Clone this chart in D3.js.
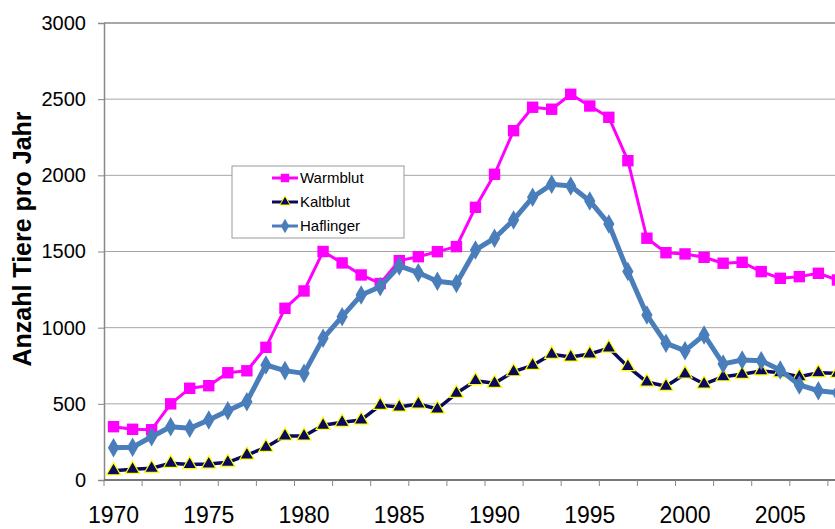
<!DOCTYPE html>
<html>
<head>
<meta charset="utf-8">
<script src="https://cdn.jsdelivr.net/npm/d3@7"></script>
<style>
  body { margin: 0; background: #fff; }
  svg { display: block; font-family: Arial, "Liberation Sans", sans-serif; }
</style>
</head>
<body>
<svg width="835" height="529"></svg>
<script>
const years = d3.range(1970, 2009);
const warmblut = [350, 333, 330, 500, 602, 619, 704, 717, 871, 1127, 1241, 1500, 1425, 1346, 1290,
    1440, 1466, 1499, 1532, 1790, 2007, 2293, 2447, 2434, 2532, 2455, 2381, 2096, 1587, 1492,
    1484, 1462, 1423, 1429, 1368, 1324, 1335, 1357, 1313];
const kaltblut = [61, 70, 77, 110, 101, 105, 116, 164, 215, 289, 289, 359, 379, 394, 490,
    479, 499, 466, 569, 652, 635, 711, 753, 825, 807, 827, 866, 744, 643, 615,
    696, 630, 678, 694, 716, 704, 678, 704, 700];
const haflinger = [212, 215, 284, 350, 339, 394, 455, 514, 755, 718, 700, 930, 1072, 1214, 1269,
    1405, 1361, 1305, 1290, 1510, 1587, 1707, 1856, 1941, 1930, 1832, 1681, 1368, 1083, 897,
    849, 952, 762, 788, 783, 722, 624, 586, 573];
const yTicks = [0, 500, 1000, 1500, 2000, 2500, 3000];
const xLabels = [1970, 1975, 1980, 1985, 1990, 1995, 2000, 2005];

const svg = d3.select('svg');
const plotLeft = 104, plotTop = 23, plotBottom = 480;
const catW = 19.05;

const x = d3.scaleBand().domain(years).range([plotLeft, plotLeft + years.length * catW]);
const y = d3.scaleLinear().domain([0, 3000]).range([plotBottom, plotTop]);

// gridlines
svg.append('g').selectAll('line').data(yTicks.filter(d => d > 0)).join('line')
    .attr('x1', plotLeft).attr('x2', 835)
    .attr('y1', d => y(d)).attr('y2', d => y(d))
    .attr('stroke', d => d === 3000 ? '#8a8a8a' : '#a6a6a6')
    .attr('stroke-width', d => d === 3000 ? 1.5 : 1);

// y axis
const yAxis = svg.append('g')
    .attr('transform', `translate(${plotLeft},0)`)
    .call(d3.axisLeft(y).tickValues(yTicks).tickFormat(d3.format('d')).tickSize(6).tickPadding(12));
yAxis.select('.domain').attr('stroke', '#888').attr('stroke-width', 1.5);
yAxis.selectAll('.tick line').attr('stroke', '#888');
yAxis.selectAll('.tick text').attr('font-size', 20).attr('fill', '#000')
    .attr('font-family', 'Arial, "Liberation Sans", sans-serif');

// x axis: tick marks every 2 categories, labels every 5 years
const xAxisG = svg.append('g');
xAxisG.append('line')
    .attr('x1', plotLeft).attr('x2', 835)
    .attr('y1', plotBottom).attr('y2', plotBottom)
    .attr('stroke', '#777').attr('stroke-width', 2);
xAxisG.selectAll('line.tk').data(years.filter((d, i) => i % 2 === 0)).join('line')
    .attr('class', 'tk')
    .attr('x1', d => x(d)).attr('x2', d => x(d))
    .attr('y1', plotBottom).attr('y2', plotBottom + 6)
    .attr('stroke', '#888');
xAxisG.selectAll('text').data(xLabels).join('text')
    .attr('x', d => x(d) + x.bandwidth() / 2)
    .attr('y', 523)
    .attr('text-anchor', 'middle')
    .attr('font-size', 23)
    .text(d => d);

// y title
svg.append('text')
    .attr('transform', 'translate(31,239) rotate(-90)')
    .attr('text-anchor', 'middle')
    .attr('font-size', 25)
    .attr('font-weight', 'bold')
    .text('Anzahl Tiere pro Jahr');

const cx = d => x(d) + x.bandwidth() / 2;
const line = d3.line().x((d, i) => cx(years[i])).y(d => y(d));

const series = [
    { name: 'Warmblut', values: warmblut, color: '#ff00ff', width: 3, symbol: d3.symbolSquare, size: 130, fill: '#ff00ff', stroke: 'none' },
    { name: 'Kaltblut', values: kaltblut, color: '#0a0a5a', width: 3.5, symbol: d3.symbolTriangle, size: 85, fill: '#0a0a5a', stroke: '#ffff00' },
    { name: 'Haflinger', values: haflinger, color: '#4a7ebb', width: 5, symbol: d3.symbolDiamond, size: 110, fill: '#4a7ebb', stroke: 'none' }
];

const plot = svg.append('g');
// draw order: Warmblut, Kaltblut, Haflinger on top
series.forEach(s => {
    const g = plot.append('g');
    g.append('path')
        .attr('d', line(s.values))
        .attr('fill', 'none')
        .attr('stroke', s.color)
        .attr('stroke-width', s.width)
        .attr('stroke-linejoin', 'round');
    g.selectAll('path.m').data(s.values).join('path')
        .attr('class', 'm')
        .attr('transform', (d, i) => `translate(${cx(years[i])},${y(d)})`)
        .attr('d', d3.symbol().type(s.symbol).size(s.size))
        .attr('fill', s.fill)
        .attr('stroke', s.stroke)
        .attr('stroke-width', 1.2);
});

// legend
const lg = svg.append('g').attr('transform', 'translate(232,166)');
lg.append('rect').attr('width', 172).attr('height', 72)
    .attr('fill', '#fff').attr('stroke', '#9a9a9a');
series.forEach((s, i) => {
    const ly = 12 + i * 24;
    lg.append('line').attr('x1', 40).attr('x2', 66).attr('y1', ly).attr('y2', ly)
        .attr('stroke', s.color).attr('stroke-width', 3);
    lg.append('path')
        .attr('transform', `translate(53,${ly})`)
        .attr('d', d3.symbol().type(s.symbol).size(s.size * 0.55))
        .attr('fill', s.fill).attr('stroke', s.stroke).attr('stroke-width', 1);
    lg.append('text').attr('x', 68).attr('y', ly + 5)
        .attr('font-size', 15).text(s.name);
});
</script>
</body>
</html>
